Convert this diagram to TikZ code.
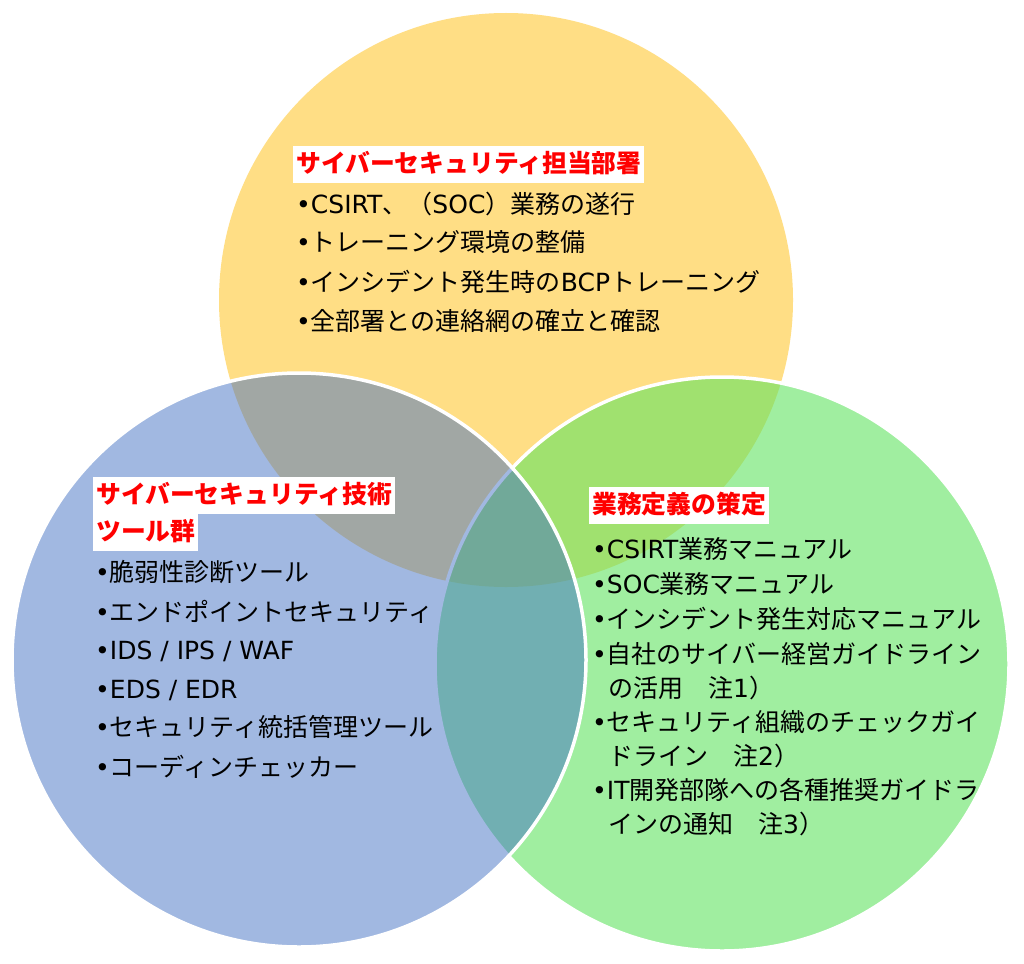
\documentclass[tikz,border=0pt]{standalone}
\usepackage{fontspec}
\setmainfont{Noto Sans CJK JP}
\newfontfamily\latfont{DejaVu Sans}
\newcommand\lat[1]{{\latfont #1}}
\newcommand\bul{{\latfont •}}
\definecolor{venny}{RGB}{255,222,133}
\definecolor{venng}{RGB}{97,227,97}
\definecolor{vennb}{RGB}{68,114,196}

\begin{document}
\begin{tikzpicture}[x=1pt,y=-1pt,
	ttl/.style={anchor=west,fill=white,text=red,inner xsep=3pt,inner ysep=6.5pt,text height=20pt,text depth=4pt,font=\fontsize{24.8}{30}\selectfont\bfseries},
	itm/.style={anchor=west,inner sep=0pt,text height=20pt,text depth=4pt,font=\fontsize{25}{30}\selectfont}]
		\fill[white] (0,0) rectangle (1024,963);
		\useasboundingbox (0,0) rectangle (1024,963);
		% circles
		\fill[venny] (506,300) circle[radius=287pt];
		\filldraw[fill=venng,fill opacity=0.6,draw=white,line width=3.5pt] (722,664) circle[radius=287pt];
		\filldraw[fill=vennb,fill opacity=0.5,draw=white,line width=3.5pt] (299,660) circle[radius=287pt];
		% top
		\node[ttl] (topttl) at (293,164) {サイバーセキュリティ担当部署};
		\node[itm] (top1) at (296,205) {\bul\lat{CSIRT}、（\lat{SOC}）業務の遂行};
		\node[itm] (top2) at (296,243) {\bul トレーニング環境の整備};
		\node[itm] (top3) at (296,283) {\bul インシデント発生時の\lat{BCP}トレーニング};
		\node[itm] (top4) at (296,322) {\bul 全部署との連絡網の確立と確認};
		% left
		\node[ttl] (leftttla) at (93,495) {サイバーセキュリティ技術};
		\node[ttl] (leftttlb) at (93,532) {ツール群};
		\node[itm] (left1) at (95,573) {\bul 脆弱性診断ツール};
		\node[itm] (left2) at (95,613) {\bul エンドポイントセキュリティ};
		\node[itm] (left3) at (95,651) {\bul\lat{IDS / IPS / WAF}};
		\node[itm] (left4) at (95,690) {\bul\lat{EDS / EDR}};
		\node[itm] (left5) at (95,728) {\bul セキュリティ統括管理ツール};
		\node[itm] (left6) at (95,768) {\bul コーディンチェッカー};
		% right
		\node[ttl] (rightttl) at (589,505) {業務定義の策定};
		\node[itm] (right1) at (592,550) {\bul\lat{CSIRT}業務マニュアル};
		\node[itm] (right2) at (592,585) {\bul\lat{SOC}業務マニュアル};
		\node[itm] (right3) at (592,620) {\bul インシデント発生対応マニュアル};
		\node[itm] (right4) at (592,655) {\bul 自社のサイバー経営ガイドライン};
		\node[itm] (right4b) at (608,689) {の活用　注\lat{1}）};
		\node[itm] (right5) at (592,723) {\bul セキュリティ組織のチェックガイ};
		\node[itm] (right5b) at (608,757) {ドライン　注\lat{2}）};
		\node[itm] (right6) at (592,791) {\bul\lat{IT}開発部隊への各種推奨ガイドラ};
		\node[itm] (right6b) at (608,825) {インの通知　注\lat{3}）};
		
	\end{tikzpicture}
\end{document}
